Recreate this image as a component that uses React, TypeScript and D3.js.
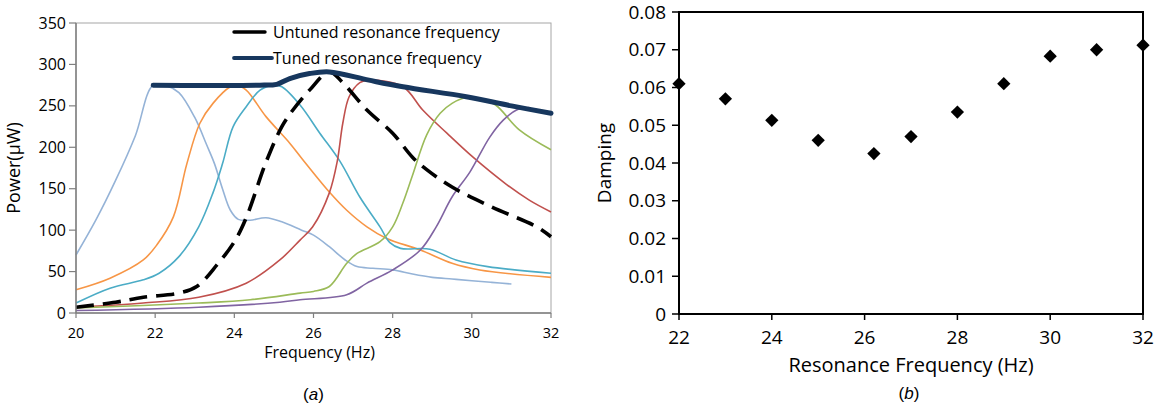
import React from "react";
import * as d3 from "d3";

// ---------- Data: panel (a) power vs frequency ----------
const lightBlue: [number, number][] = [[20,70],[20.5,112],[21,160],[21.5,214],[21.95,275],[22.3,274],[22.6,266],[23,236],[23.3,203],[23.5,180],[23.7,150],[23.9,124],[24.1,113],[24.4,112],[24.8,115],[25.2,110],[25.7,100],[26,94],[26.4,80],[26.8,64],[27.1,56],[27.5,54],[28,52],[28.5,47],[29,43],[29.5,41],[30,39],[30.5,37],[31,35]];
const orange: [number, number][] = [[20,28],[20.86,42],[21.7,64],[22.04,82],[22.46,116],[22.8,180],[23.13,229],[23.46,253],[23.9,273],[24.05,275],[24.3,269],[24.8,237],[25.4,205],[25.73,185],[26.4,146],[26.84,124],[27.35,104],[27.85,90],[28.7,76],[29.5,60],[30.2,52],[32,43]];
const teal: [number, number][] = [[20,12],[20.86,30],[21.7,40],[22.1,48],[22.6,68],[23.1,104],[23.46,145],[23.7,180],[23.97,225],[24.3,249],[24.65,269],[25.0,275],[25.2,273],[25.66,251],[26.16,217],[26.67,183],[27.17,140],[27.68,104],[27.93,85],[28.2,78],[28.94,77],[29.6,64],[30.4,56],[32,48]];
const untuned: [number, number][] = [[20,7],[21,13],[21.7,19],[22.6,24],[23.05,32],[23.56,58],[24.0,86],[24.3,115],[24.8,182],[25.2,225],[25.48,245],[25.9,269],[26.4,291],[26.74,278],[27.35,245],[28,217],[28.5,188],[28.86,173],[29.5,152],[30.5,128],[31.64,104],[32,92]];
const red: [number, number][] = [[20,7],[21.7,12],[23.1,19],[24.3,36],[25.15,64],[25.66,88],[25.98,104],[26.4,145],[26.6,183],[26.74,229],[26.9,261],[27.17,278],[27.4,281],[28.26,273],[28.76,245],[29.37,217],[30.03,188],[30.88,155],[31.46,136],[32,122]];
const green: [number, number][] = [[20,6],[23.1,12],[24.4,16],[25.66,24],[26,26],[26.4,32],[26.84,60],[27.1,72],[27.68,86],[28,104],[28.26,133],[28.5,166],[28.86,215],[29.2,241],[29.5,253],[29.86,260],[30.2,259],[30.6,251],[31.2,221],[32,197]];
const purple: [number, number][] = [[20,3],[23.1,7],[25.15,13],[25.66,16],[26.84,22],[27.35,36],[28,52],[28.7,76],[29.1,104],[29.5,140],[29.95,170],[30.45,212],[30.8,233],[31.13,245],[31.45,248]];
const tuned: [number, number][] = [[21.95,275],[24.65,275],[25.07,276],[25.4,283],[25.9,289],[26.4,291],[27.4,281],[28.26,273],[29.86,261],[31,250],[32,241]];

const powerTicks = [0, 50, 100, 150, 200, 250, 300, 350];
const freqTicksA = [20, 22, 24, 26, 28, 30, 32];

// ---------- Data: panel (b) damping ----------
const resFreq = [22, 23, 24, 25, 26.2, 27, 28, 29, 30, 31, 32];
const damping = [0.061, 0.057, 0.0513, 0.046, 0.0425, 0.047, 0.0535, 0.061, 0.0683, 0.070, 0.0712];
const dampTicks = [0, 0.01, 0.02, 0.03, 0.04, 0.05, 0.06, 0.07, 0.08];
const freqTicksB = [22, 24, 26, 28, 30, 32];

const FONT = "'Open Sans', 'Noto Sans', sans-serif";

export default function App() {
  // Panel (a) scales
  const xa = d3.scaleLinear().domain([20, 32]).range([76, 551]);
  const ya = d3.scaleLinear().domain([0, 350]).range([313, 23]);
  const line = d3.line<[number, number]>().x(d => xa(d[0])).y(d => ya(d[1])).curve(d3.curveCatmullRom.alpha(0.5));

  const thin = [
    { d: lightBlue, c: "#95b3d7" },
    { d: orange, c: "#f79646" },
    { d: teal, c: "#4bacc6" },
    { d: red, c: "#c0504d" },
    { d: green, c: "#9bbb59" },
    { d: purple, c: "#8064a2" },
  ];

  // Panel (b) scales
  const xb = d3.scaleLinear().domain([22, 32]).range([679, 1143]);
  const yb = d3.scaleLinear().domain([0, 0.08]).range([314, 12]);
  const diamond = d3.symbol().type(d3.symbolSquare).size(88)();

  return (
    <svg width={1158} height={410} style={{ position: "absolute", left: 0, top: 0, background: "#fff" }} fontFamily={FONT}>
      {/* ===== Panel (a) ===== */}
      <rect x={76} y={23} width={475} height={290} fill="none" stroke="#a6a6a6" strokeWidth={1} />
      {thin.map((s, i) => (
        <path key={i} d={line(s.d) || ""} fill="none" stroke={s.c} strokeWidth={1.6} />
      ))}
      <path d={line(untuned) || ""} fill="none" stroke="#000" strokeWidth={3.6} strokeDasharray="18,9" />
      <path d={line(tuned) || ""} fill="none" stroke="#17375e" strokeWidth={5} strokeLinecap="round" />
      {/* axes */}
      <line x1={76} x2={76} y1={23} y2={313} stroke="#7f7f7f" strokeWidth={1.5} />
      <line x1={76} x2={551} y1={313} y2={313} stroke="#7f7f7f" strokeWidth={1.5} />
      {powerTicks.map(t => (
        <g key={t}>
          <line x1={69} x2={76} y1={ya(t)} y2={ya(t)} stroke="#7f7f7f" strokeWidth={1.2} />
          <text x={66} y={ya(t)} dy="0.35em" textAnchor="end" fontSize={16} fill="#000">{t}</text>
        </g>
      ))}
      {freqTicksA.map(t => (
        <g key={t}>
          <line x1={xa(t)} x2={xa(t)} y1={313} y2={318} stroke="#7f7f7f" strokeWidth={1.2} />
          <text x={xa(t)} y={338} textAnchor="middle" fontSize={14.5} fill="#000">{t}</text>
        </g>
      ))}
      <text x={xa(26) + 6} y={358} textAnchor="middle" fontSize={16} fill="#000">Frequency (Hz)</text>
      <text transform={`translate(20,${(23 + 313) / 2}) rotate(-90)`} textAnchor="middle" fontSize={18} fill="#000">Power(μW)</text>
      <text x={xa(26)} y={400} textAnchor="middle" fontSize={17} fontStyle="italic" fontFamily="'Liberation Sans', Arial, sans-serif" fill="#000">
        <tspan fontStyle="normal">(</tspan>a<tspan fontStyle="normal">)</tspan>
      </text>
      {/* legend */}
      <line x1={234} x2={265} y1={32} y2={32} stroke="#000" strokeWidth={3.4} strokeLinecap="round" />
      <text x={273} y={32} dy="0.35em" fontSize={16} fill="#000">Untuned resonance frequency</text>
      <line x1={234} x2={272} y1={58} y2={58} stroke="#17375e" strokeWidth={3.8} strokeLinecap="round" />
      <text x={273} y={58} dy="0.35em" fontSize={16} fill="#000">Tuned resonance frequency</text>

      {/* ===== Panel (b) ===== */}
      <rect x={679} y={12} width={464} height={302} fill="none" stroke="#000" strokeWidth={2} />
      {dampTicks.map(t => (
        <g key={t}>
          <line x1={672} x2={679} y1={yb(t)} y2={yb(t)} stroke="#000" strokeWidth={1.5} />
          <text x={666} y={yb(t)} dy="0.35em" textAnchor="end" fontSize={19} fill="#000">{t === 0 ? "0" : t.toFixed(2)}</text>
        </g>
      ))}
      {freqTicksB.map(t => (
        <g key={t}>
          <line x1={xb(t)} x2={xb(t)} y1={314} y2={320} stroke="#000" strokeWidth={1.5} />
          <text x={xb(t)} y={344} textAnchor="middle" fontSize={19} fill="#000">{t}</text>
        </g>
      ))}
      {resFreq.map((f, i) => (
        <path key={i} d={diamond || ""} transform={`translate(${xb(f)},${yb(damping[i])}) rotate(45)`} fill="#000" />
      ))}
      <text x={(679 + 1143) / 2} y={372} textAnchor="middle" fontSize={20} fill="#000">Resonance Frequency (Hz)</text>
      <text transform={`translate(611,${(12 + 314) / 2}) rotate(-90)`} textAnchor="middle" fontSize={19} fill="#000">Damping</text>
      <text x={909} y={399} textAnchor="middle" fontSize={17} fontStyle="italic" fontFamily="'Liberation Sans', Arial, sans-serif" fill="#000">
        <tspan fontStyle="normal">(</tspan>b<tspan fontStyle="normal">)</tspan>
      </text>
    </svg>
  );
}
